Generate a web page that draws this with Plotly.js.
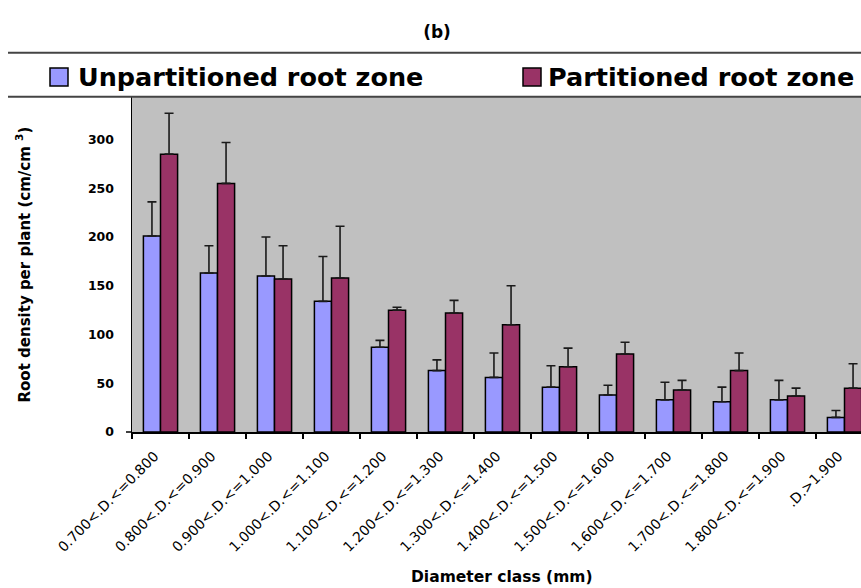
<!DOCTYPE html>
<html>
<head>
<meta charset="utf-8">
<script src="https://cdn.plot.ly/plotly-3.0.1.min.js"></script>
<style>
  html, body { margin: 0; padding: 0; background: #ffffff; overflow: hidden; }
  #chart { width: 875px; height: 588px; }
</style>
</head>
<body>
<div id="chart"></div>
<script>
// Diameter classes (mm)
const categories = [
  "0.700<.D.<=0.800", "0.800<.D.<=0.900", "0.900<.D.<=1.000", "1.000<.D.<=1.100",
  "1.100<.D.<=1.200", "1.200<.D.<=1.300", "1.300<.D.<=1.400", "1.400<.D.<=1.500",
  "1.500<.D.<=1.600", "1.600<.D.<=1.700", "1.700<.D.<=1.800", "1.800<.D.<=1.900",
  ".D.>1.900"
];

// Root density per plant (cm/cm3) and upper error bars
const unpartitioned    = [201, 163, 160, 134, 87, 63, 56, 46, 38, 33, 31, 33, 15];
const unpartitionedErr = [35, 28, 40, 46, 7, 11, 25, 22, 10, 18, 15, 20, 7];
const partitioned      = [285, 255, 157, 158, 125, 122, 110, 67, 80, 43, 63, 37, 45];
const partitionedErr   = [42, 42, 34, 53, 3, 13, 40, 19, 12, 10, 18, 8, 25];

const seriesNames = ["Unpartitioned root zone", "Partitioned root zone"];
const seriesColors = ["#9999FF", "#993366"];

// Plot-area geometry in pixels
const M = { l: 132, r: 2, t: 97, b: 156 };
const FIG_W = 875, FIG_H = 588;
const PW = FIG_W - M.l - M.r, PH = FIG_H - M.t - M.b;
const px = x => (x - M.l) / PW;
const py = y => (FIG_H - M.b - y) / PH;

const zeros = categories.map(() => 0);

function barTrace(i, values, errs) {
  return {
    type: "bar",
    name: seriesNames[i],
    x: categories,
    y: values,
    marker: { color: seriesColors[i], line: { color: "#000000", width: 1.5 } },
    error_y: {
      type: "data", symmetric: false, array: errs, arrayminus: zeros,
      color: "#1a1a1a", thickness: 1.6, width: 4.5
    },
    showlegend: false,
    hoverinfo: "x+y"
  };
}

const data = [
  barTrace(0, unpartitioned, unpartitionedErr),
  barTrace(1, partitioned, partitionedErr)
];

const boldFont = "DejaVu Sans, Liberation Sans, Arial, sans-serif";

const layout = {
  width: FIG_W,
  height: FIG_H,
  margin: M,
  paper_bgcolor: "#ffffff",
  plot_bgcolor: "#C0C0C0",
  barmode: "group",
  bargap: 0.4,
  bargroupgap: 0,
  title: {
    text: "<b>(b)</b>",
    x: 437 / FIG_W, xref: "container", xanchor: "center",
    y: 1 - 32 / FIG_H, yref: "container", yanchor: "middle",
    font: { family: boldFont, size: 17, color: "#000000" }
  },
  xaxis: {
    type: "category",
    range: [-0.5, categories.length - 0.5],
    showline: true, linecolor: "#000000", linewidth: 1.5,
    ticks: "outside", tickson: "boundaries", ticklen: 5, tickwidth: 1.2, tickcolor: "#000000",
    tickangle: -45,
    ticklabelshift: -6, ticklabelstandoff: 9,
    tickfont: { family: "DejaVu Sans, sans-serif", size: 14, color: "#000000" },
    showgrid: false, zeroline: false, automargin: false, fixedrange: true
  },
  yaxis: {
    range: [0, 343.6],
    tickvals: [0, 50, 100, 150, 200, 250, 300],
    showline: true, linecolor: "#000000", linewidth: 1.5,
    ticks: "", ticklabelstandoff: 14,
    tickfont: { family: boldFont, size: 12.5, color: "#000000", weight: "bold" },
    showgrid: false, zeroline: false, automargin: false, fixedrange: true
  },
  shapes: [
    // legend band borders
    { type: "line", xref: "paper", yref: "paper", x0: px(8), x1: px(FIG_W + 5), y0: py(52.7), y1: py(52.7),
      line: { color: "#444444", width: 2 } },
    { type: "line", xref: "paper", yref: "paper", x0: px(8), x1: px(FIG_W + 5), y0: py(96.7), y1: py(96.7),
      line: { color: "#444444", width: 2 } },
    // legend swatches
    { type: "rect", xref: "paper", yref: "paper", x0: px(50), x1: px(68), y0: py(86), y1: py(68),
      fillcolor: seriesColors[0], line: { color: "#000000", width: 1.5 } },
    { type: "rect", xref: "paper", yref: "paper", x0: px(523), x1: px(541), y0: py(86), y1: py(68),
      fillcolor: seriesColors[1], line: { color: "#000000", width: 1.5 } },
    // small extension of the category axis left of the value axis
    { type: "line", xref: "paper", yref: "paper", x0: px(126), x1: 0, y0: 0, y1: 0,
      line: { color: "#000000", width: 1.5 } }
  ],
  annotations: [
    { text: "<b>" + seriesNames[0] + "</b>", xref: "paper", yref: "paper",
      x: px(76), y: py(77), xanchor: "left", yanchor: "middle", showarrow: false,
      font: { family: boldFont, size: 25.5, color: "#000000" } },
    { text: "<b>" + seriesNames[1] + "</b>", xref: "paper", yref: "paper",
      x: px(546), y: py(77), xanchor: "left", yanchor: "middle", showarrow: false,
      font: { family: boldFont, size: 25.5, color: "#000000" } },
    { text: "<b>Diameter class (mm)</b>", xref: "paper", yref: "paper",
      x: px(501.5), y: py(577), xanchor: "center", yanchor: "middle", showarrow: false,
      font: { family: boldFont, size: 15.5, color: "#000000" } },
    { text: "<b>Root density per plant (cm/cm <sup>3</sup>)</b>", xref: "paper", yref: "paper",
      x: px(23), y: 0.5, xanchor: "center", yanchor: "middle", textangle: -90, showarrow: false,
      font: { family: boldFont, size: 15, color: "#000000" } }
  ]
};

Plotly.newPlot("chart", data, layout, { displayModeBar: false, staticPlot: true });
</script>
</body>
</html>
